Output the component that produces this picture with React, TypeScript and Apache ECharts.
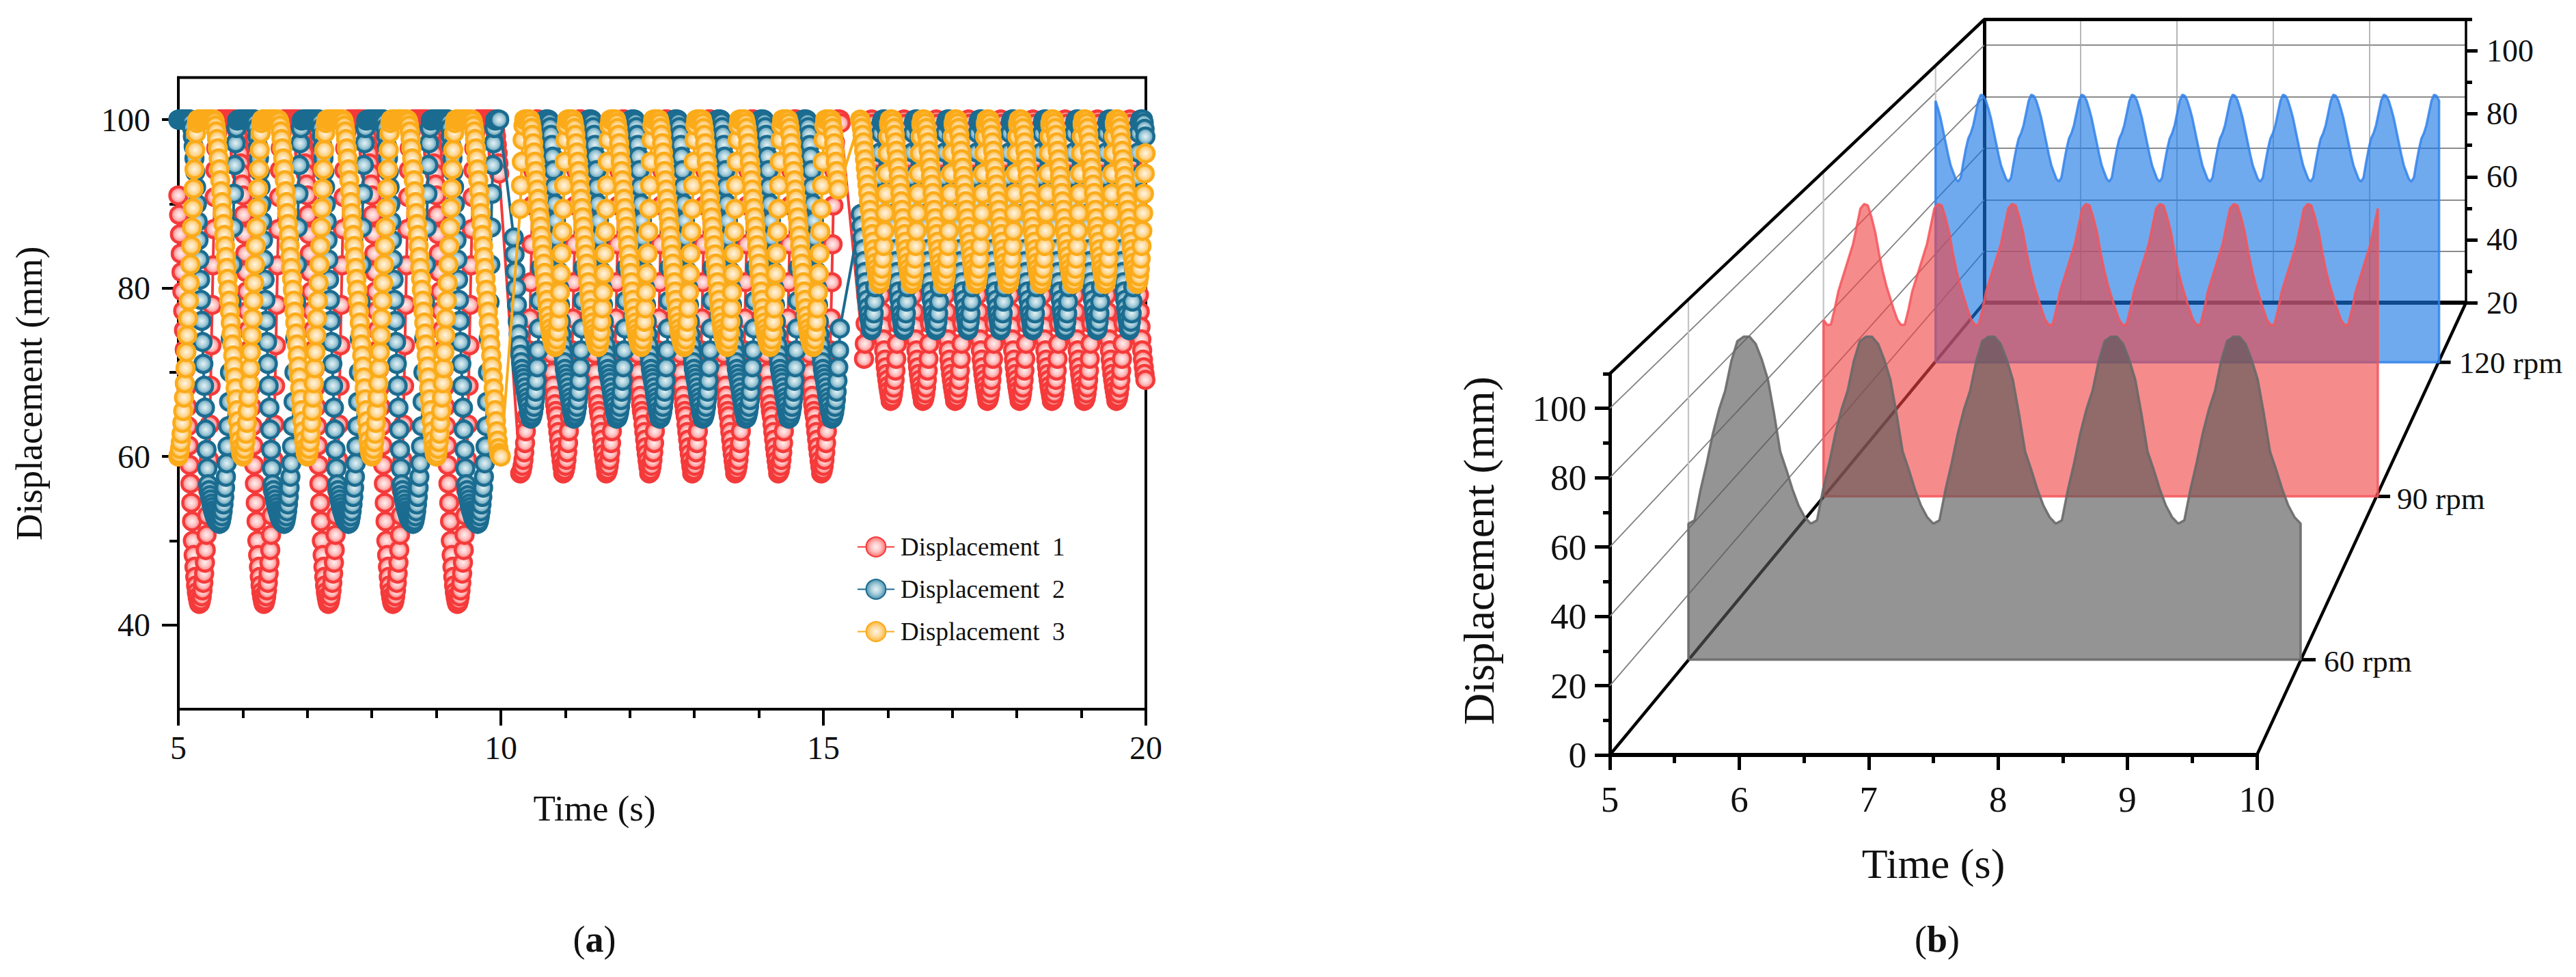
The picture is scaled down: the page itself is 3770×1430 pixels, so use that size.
import React, { useEffect, useRef } from "react";
import * as echarts from "echarts";

// ---------- Panel (a): one read-off period per speed, each series (mm), first value = trough ----------
const RED_60 = [42.5,42.6,42.9,43.4,44.1,45,46.1,47.4,48.9,50.7,53,56,59.6,63.8,68.4,73.2,78,82.7,87,90.8,94,96.6,98.4,99.5,
  100,100,100,100,100,100,100,100,100,100,100,100,100,100,100,100,100,100,100,100,100,
  99.7,99.3,98.7,98,97,96,94.8,93.6,92.3,91,88.7,86.4,84.1,81.9,79.6,77.3,75,72.7,70.4,68.2,65.9,63.6,61.3,59,56.8,54.5,52.3,50,48.3,46.9,45.7,44.7,43.9,43.3,42.8];
const BLUE_60 = [52,52.1,52.4,52.9,53.5,54.3,55.2,56.3,57.6,59.2,61.2,63.6,66.5,70,74,78.3,82.8,87.2,91.2,94.6,97.2,99,99.9,
  100,100,100,100,100,100,100,100,100,100,100,100,100,100,100,100,100,100,100,100,100,100,
  99.7,99,98,96.8,95.4,93.8,92,90,87.9,85.7,83.4,81,78.6,76.1,73.6,71,68.4,65.8,63.2,60.8,58.6,56.7,56,55.4,54.9,54.4,54,53.6,53.3,53,52.7,52.5,52.3,52.2,52.1];
const YELLOW_60 = [60,60.3,60.9,61.7,62.7,64,65.4,67,68.7,70.5,72.4,74.4,76.4,78.5,80.6,82.8,85,87.2,89.5,91.8,94.1,96.4,98.4,99.6,
  100,100,100,100,100,100,100,100,100,100,100,100,100,100,100,100,100,100,100,100,100,
  99.8,99.3,98.6,97.7,96.6,95.4,94.1,92.8,91.5,90.2,88.9,87.6,86.3,85,83.7,82.4,81.1,79.8,78.5,77.2,75.9,74.6,73.3,72,70.7,69.4,68.1,66.8,65.5,64.2,63,61.9,61,60.4,60.1];
const RED_90 = [58,58.1,58.4,58.9,59.6,60.5,61.6,63,64.7,66.8,69.4,72.6,76.4,80.7,85.2,89.8,94,97.3,99.3,100,100,100,100,100,
  99.6,98.9,97.9,96.6,95.1,93.4,91.6,89.7,87.6,85.4,83.2,81,78.8,76.6,74.4,72.2,70,68.4,67.2,66.2,65.4,64.8,63.8,62.9,62,61.1,60.3,59.5,58.8];
const BLUE_90 = [64.5,64.6,64.9,65.3,65.9,66.7,67.7,69,70.6,72.6,75.2,78.5,82.4,86.6,91,95,98,99.5,100,100,100,100,100,
  99.7,99.1,98.2,97,95.6,94,92,90,88,86,84,82,80,78,76,74.5,73.2,72.1,71.2,70.4,69.8,69.3,68.8,68.2,67.6,67,66.5,66,65.4,64.9];
const YELLOW_90 = [73,73.3,73.9,74.8,76,77.6,79.5,81.7,84.1,86.7,89.4,92.2,95,97.6,99.3,100,100,100,100,100,100,100,100,
  99.6,99,98.2,97.2,96.1,95,93.9,92.8,91.7,90.6,89.5,88.4,87.3,86.2,85.1,84,82.9,81.8,80.7,79.6,78.6,77.6,76.7,75.9,75.2,74.6,74.1,73.7,73.4,73.1];
const RED_120 = [66.6,66.7,67,67.5,68.2,69.1,70.2,71.6,73.4,75.8,79,83,87.5,92.2,96.3,99,100,100,
  99.5,98.6,97.2,95.4,93.4,91.2,88.9,86.5,84,81.5,79.2,77.2,75.4,73.9,72.6,71.5,70.6,69.8,69.1,68.4,67.8,67.2];
const BLUE_120 = [75,75.3,76,77,78.4,80.1,82.2,84.6,87.3,90.2,93.2,96.1,98.4,99.7,100,100,100,100,
  99.6,98.9,98,96.9,95.7,94.4,93,91.6,90.2,88.8,87.4,86,84.6,83.2,81.9,80.7,79.6,78.6,77.7,76.9,76.2,75.6];
const YELLOW_120 = [80.5,80.8,81.4,82.3,83.5,85,86.8,88.9,91.2,93.6,96,98,99.4,100,100,100,100,
  99.6,99,98.2,97.3,96.3,95.3,94.3,93.3,92.3,91.3,90.3,89.3,88.3,87.3,86.4,85.5,84.6,83.8,83,82.3,81.7,81.2,80.8];

const A_X_TICKS = [5, 10, 15, 20];
const A_Y_MAJOR = [40, 60, 80, 100];
const A_Y_MINOR = [50, 70, 90];

// ---------- Panel (b): one read-off period per rotation speed (mm) ----------
const GRAY_60RPM = [41.5,42.5,52,60,69,76.3,82,91,97.2,98.5,98.5,96.3,91.5,85.4,75,63.5,58,52,47,43.5];
const RED_90RPM = [57.7,57.9,63,69,73,77,81,85,91,97,98.5,98,94,89,82,76,71,67,63,59.5];
const BLUE_120RPM = [67,68.5,74,79,83,85,88,92.5,97,99.2,98.8,97,94,90.5,86,81.5,77,73,70.5,68];

const B_FRONT_Y_MAJOR = [0, 20, 40, 60, 80, 100];
const B_FRONT_Y_MINOR = [10, 30, 50, 70, 90, 110];
const B_BACK_Y_MAJOR = [20, 40, 60, 80, 100];
const B_BACK_Y_MINOR = [30, 50, 70, 90, 110];
const B_WALL_LEVELS = [20, 40, 60, 80, 100];

// ---------- Helpers ----------
function run(cycle: number[], startIdx: number, t0: number, period: number, tEnd: number) {
  const dt = period / cycle.length;
  const pts: number[][] = [];
  for (let i = 0; t0 + i * dt <= tEnd + 1e-6; i++) pts.push([t0 + i * dt, cycle[(startIdx + i) % cycle.length]]);
  return pts;
}
function plane(cycle: number[], startIdx: number, period: number) {
  return [[5, 0], ...run(cycle, startIdx, 5, period, 10), [10, 0], [5, 0]];
}

const FONT = "Liberation Serif";
const INK = "#111111";

// geometry of the pseudo-3D box
const F = { l: 2356, r: 3303, b: 1105, t: 547 };
const K = { l: 2904, r: 3609, b: 443, t: 28.5 };
const P60 = { l: 2471, r: 3367, b: 965.6 };
const P90 = { l: 2668.7, r: 3480, b: 726.6 };
const P120 = { l: 2832.7, r: 3569.6, b: 530.3 };
const depthScale = (w: number) => (w / (F.r - F.l)) * ((F.b - F.t) / 110);

function scatterStyle(edge: string, outer: string, mid: string, center: string) {
  return {
    type: "line" as const,
    symbol: "circle",
    symbolSize: 25,
    showSymbol: true,
    showAllSymbol: true,
    clip: false,
    silent: true,
    lineStyle: { color: edge, width: 4 },
    itemStyle: {
      color: new echarts.graphic.RadialGradient(0.5, 0.5, 0.5, [
        { offset: 0, color: center },
        { offset: 0.5, color: mid },
        { offset: 1, color: outer },
      ]),
      borderColor: edge,
      borderWidth: 4.5,
    },
  };
}

function line(x1: number, y1: number, x2: number, y2: number, stroke: string, lineWidth: number) {
  return { type: "line", z: 1, silent: true, shape: { x1, y1, x2, y2 }, style: { stroke, lineWidth } };
}
function label(text: string, x: number, y: number, fontSize: number, align = "left") {
  return {
    type: "text", z: 6, silent: true, x, y,
    style: { text, fontFamily: FONT, fontSize, fill: INK, textAlign: align, textVerticalAlign: "middle" },
  };
}
function panelTag(letter: string, x: number, y: number) {
  return {
    type: "text", z: 6, silent: true, x, y,
    style: {
      text: `{n|(}{b|${letter}}{n|)}`, textAlign: "center", textVerticalAlign: "middle",
      fontFamily: FONT, fontSize: 54, fill: INK,
      rich: {
        n: { fontFamily: FONT, fontSize: 54, fill: INK },
        b: { fontFamily: FONT, fontSize: 54, fontWeight: "bold", fill: INK },
      },
    },
  };
}

function hiddenX(gridIndex: number) {
  return { type: "value", gridIndex, min: 5, max: 10, show: false };
}
function hiddenY(gridIndex: number) {
  return { type: "value", gridIndex, min: 0, max: 110, show: false };
}
function areaSeries(name: string, data: number[][], xi: number, yi: number, fill: string, stroke: string, z: number) {
  return {
    type: "line", name, data, xAxisIndex: xi, yAxisIndex: yi, z,
    symbol: "none", silent: true, clip: false,
    lineStyle: { color: stroke, width: 3.5 },
    itemStyle: { color: stroke },
    areaStyle: { color: fill, opacity: 1, origin: "start" },
  };
}

function buildOption() {
  const ink = { color: "#000" };
  const wallLines: any[] = [];
  // left wall: depth lines for each level
  for (const v of B_WALL_LEVELS) {
    wallLines.push(line(F.l, F.b - ((F.b - F.t) / 110) * v, K.l, K.b - ((K.b - K.t) / 110) * v, "#808080", 1.8));
  }
  // left wall: verticals at each speed plane
  for (const p of [P60, P90, P120]) {
    const depth = (F.b - p.b) / (F.b - K.b);
    wallLines.push(line(p.l, F.t + (K.t - F.t) * depth, p.l, p.b, "#c4c4c4", 2.2));
  }
  const graphicEls: any[] = [
    ...wallLines,
    line(F.l, F.t, K.l, K.t, "#000", 4.5),
    line(K.l, K.t, K.r, K.t, "#000", 5),
    line(F.l, F.b, K.l, K.b, "#000", 4.5),
    line(F.r, F.b, K.r, K.b, "#000", 4.5),
    line(P60.r, P60.b, P60.r + 22, P60.b, "#000", 5),
    line(P90.r, P90.b, P90.r + 18, P90.b, "#000", 5),
    line(P120.r, P120.b, P120.r + 17, P120.b, "#000", 5),
    label("60 rpm", 3401, 968, 45),
    label("90 rpm", 3508, 730, 45),
    label("120 rpm", 3599, 531, 45),
    panelTag("a", 870, 1375),
    panelTag("b", 2835, 1375),
  ];

  return {
    animation: false,
    backgroundColor: "#ffffff",
    textStyle: { fontFamily: FONT, color: INK },
    grid: [
      { left: 261, top: 113.5, width: 1416, height: 924.5, show: true, borderColor: "#000", borderWidth: 4, containLabel: false },
      { left: K.l, top: K.t, width: K.r - K.l, height: K.b - K.t },
      { left: F.l, top: F.t, width: F.r - F.l, height: F.b - F.t },
      { left: P60.l, top: P60.b - 110 * depthScale(P60.r - P60.l), width: P60.r - P60.l, height: 110 * depthScale(P60.r - P60.l) },
      { left: P90.l, top: P90.b - 110 * depthScale(P90.r - P90.l), width: P90.r - P90.l, height: 110 * depthScale(P90.r - P90.l) },
      { left: P120.l, top: P120.b - 110 * depthScale(P120.r - P120.l), width: P120.r - P120.l, height: 110 * depthScale(P120.r - P120.l) },
    ],
    legend: {
      data: ["Displacement  1", "Displacement  2", "Displacement  3"],
      orient: "vertical",
      left: 1249,
      top: 777,
      itemWidth: 54,
      itemHeight: 36,
      itemGap: 25,
      textStyle: { fontFamily: FONT, fontSize: 37, color: INK, padding: [0, 0, 0, 4] },
    },
    xAxis: [
      {
        type: "value", gridIndex: 0, min: 5, max: 20, interval: 5, name: "Time (s)", nameLocation: "middle", nameGap: 118,
        nameTextStyle: { fontFamily: FONT, fontSize: 53, color: INK, padding: [0, 198, 0, 0] },
        axisLine: { show: true, lineStyle: { ...ink, width: 4 } },
        axisTick: { show: true, length: 24, lineStyle: { ...ink, width: 4 } },
        minorTick: { show: true, splitNumber: 5, length: 13, lineStyle: { ...ink, width: 4 } },
        axisLabel: { fontFamily: FONT, fontSize: 48, color: INK, margin: 32, customValues: A_X_TICKS },
        splitLine: { show: false },
      },
      {
        type: "value", gridIndex: 1, min: 5, max: 10, interval: 1, position: "bottom",
        axisLine: { show: true, onZero: false, lineStyle: { ...ink, width: 6 } },
        axisTick: { show: false }, axisLabel: { show: false },
        splitLine: { show: true, lineStyle: { color: "#a6a6a6", width: 1.6 } },
      },
      {
        type: "value", gridIndex: 2, min: 5, max: 10, interval: 1, name: "Time (s)", nameLocation: "middle", nameGap: 128,
        nameTextStyle: { fontFamily: FONT, fontSize: 62, color: INK },
        axisLine: { show: true, lineStyle: { ...ink, width: 6 } },
        axisTick: { show: true, length: 22, lineStyle: { ...ink, width: 5 } },
        minorTick: { show: true, splitNumber: 2, length: 12, lineStyle: { ...ink, width: 5 } },
        axisLabel: { fontFamily: FONT, fontSize: 53, color: INK, margin: 38 },
        splitLine: { show: false },
      },
      hiddenX(3), hiddenX(4), hiddenX(5),
    ],
    yAxis: [
      {
        type: "value", gridIndex: 0, min: 30, max: 105, name: "Displacement (mm)", nameLocation: "middle", nameGap: 191,
        nameTextStyle: { fontFamily: FONT, fontSize: 54, color: INK },
        axisLine: { show: true, onZero: false, lineStyle: { ...ink, width: 4 } },
        axisTick: { show: true, length: 24, lineStyle: { ...ink, width: 4 }, customValues: A_Y_MAJOR },
        axisLabel: { fontFamily: FONT, fontSize: 48, color: INK, margin: 41, customValues: A_Y_MAJOR },
        splitLine: { show: false },
      },
      {
        type: "value", gridIndex: 0, min: 30, max: 105, position: "left",
        axisLine: { show: false },
        axisTick: { show: true, length: 13, lineStyle: { ...ink, width: 4 }, customValues: A_Y_MINOR },
        axisLabel: { show: false }, splitLine: { show: false },
      },
      {
        type: "value", gridIndex: 1, min: 0, max: 110, interval: 20, position: "left",
        axisLine: { show: true, onZero: false, lineStyle: { ...ink, width: 5 } },
        axisTick: { show: false }, axisLabel: { show: false },
        splitLine: { show: true, lineStyle: { color: "#8c8c8c", width: 2.2 } },
      },
      {
        type: "value", gridIndex: 1, min: 20, max: 110, position: "right",
        axisLine: { show: true, onZero: false, lineStyle: { ...ink, width: 3.5 } },
        axisTick: { show: true, length: 17, lineStyle: { ...ink, width: 5 }, customValues: B_BACK_Y_MAJOR },
        axisLabel: { fontFamily: FONT, fontSize: 46, color: INK, margin: 30, customValues: B_BACK_Y_MAJOR },
        splitLine: { show: false },
      },
      {
        type: "value", gridIndex: 1, min: 20, max: 110, position: "right",
        axisLine: { show: false },
        axisTick: { show: true, length: 9, lineStyle: { ...ink, width: 5 }, customValues: B_BACK_Y_MINOR },
        axisLabel: { show: false }, splitLine: { show: false },
      },
      {
        type: "value", gridIndex: 2, min: 0, max: 110, name: "Displacement (mm)", nameLocation: "middle", nameGap: 160,
        nameTextStyle: { fontFamily: FONT, fontSize: 64, color: INK, padding: [0, 0, 0, 40] },
        axisLine: { show: true, onZero: false, lineStyle: { ...ink, width: 5 } },
        axisTick: { show: true, length: 22, lineStyle: { ...ink, width: 5 }, customValues: B_FRONT_Y_MAJOR },
        axisLabel: { fontFamily: FONT, fontSize: 53, color: INK, margin: 34, customValues: B_FRONT_Y_MAJOR },
        splitLine: { show: false },
      },
      {
        type: "value", gridIndex: 2, min: 0, max: 110, position: "left",
        axisLine: { show: false },
        axisTick: { show: true, length: 10, lineStyle: { ...ink, width: 5 }, customValues: B_FRONT_Y_MINOR },
        axisLabel: { show: false }, splitLine: { show: false },
      },
      hiddenY(3), hiddenY(4), hiddenY(5),
    ],
    graphic: { elements: graphicEls },
    series: [
      {
        ...scatterStyle("#f43a3a", "#ff7070", "#ffc4c4", "#fff0f0"), name: "Displacement  1", xAxisIndex: 0, yAxisIndex: 0, z: 3,
        data: [...run(RED_60, 54, 5, 1, 9.98), ...run(RED_90, 0, 10.3, 2 / 3, 15.28), ...run(RED_120, 7, 15.63, 0.5, 20)],
      },
      {
        ...scatterStyle("#1b6c90", "#4f94b0", "#a9cfdc", "#e6f2f5"), name: "Displacement  2", xAxisIndex: 0, yAxisIndex: 0, z: 4,
        data: [...run(BLUE_60, 29, 5, 1, 9.98), ...run(BLUE_90, 32, 10.2, 2 / 3, 15.26), ...run(BLUE_120, 27, 15.58, 0.5, 20)],
      },
      {
        ...scatterStyle("#fbab1a", "#fdb93e", "#ffdca0", "#fff6e6"), name: "Displacement  3", xAxisIndex: 0, yAxisIndex: 0, z: 5,
        data: [...run(YELLOW_60, 0, 5, 1, 10), ...run(YELLOW_90, 10, 10.3, 2 / 3, 15.24), ...run(YELLOW_120, 16, 15.57, 0.5, 20)],
      },
      areaSeries("120 rpm", plane(BLUE_120RPM, 11, 0.5), 5, 9, "rgba(24,118,227,0.62)", "rgba(50,130,235,0.85)", 6),
      areaSeries("90 rpm", plane(RED_90RPM, 19, 2 / 3), 4, 8, "rgba(240,68,70,0.62)", "rgba(245,85,90,0.85)", 7),
      areaSeries("60 rpm", plane(GRAY_60RPM, 0, 1), 3, 7, "rgba(88,88,88,0.64)", "rgba(105,105,105,0.9)", 8),
    ],
  };
}

export default function App() {
  const ref = useRef<HTMLDivElement>(null);
  useEffect(() => {
    if (!ref.current) return;
    const chart = echarts.init(ref.current, undefined, { renderer: "svg" });
    chart.setOption(buildOption() as any);
    return () => chart.dispose();
  }, []);
  return <div ref={ref} style={{ position: "absolute", left: 0, top: 0, width: 3770, height: 1430 }} />;
}
